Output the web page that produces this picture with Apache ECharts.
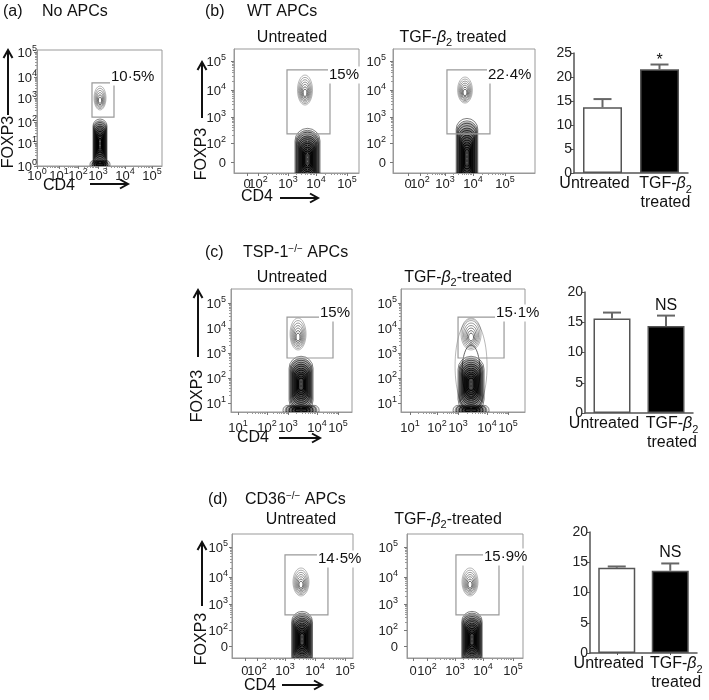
<!DOCTYPE html>
<html><head><meta charset="utf-8">
<script src="https://cdn.jsdelivr.net/npm/echarts@6/dist/echarts.min.js"></script>
<style>html,body{margin:0;padding:0;background:#fff}#c{width:709px;height:700px}</style>
</head><body><div id="c"></div><script>
const FF = '"Liberation Sans", Arial, Helvetica, sans-serif';

// ================= DATA =================
// Flow-cytometry display channels (0-1000) of the decade tick labels
const xTicks_a  = [0, 176, 328, 488, 704, 920];
const yTicks_a  = [0, 198, 379, 586, 767, 983];
const xTicks_bU = [104, 192, 432, 656, 904];
const xTicks_bT = [106, 190, 366, 563, 789];
const yTicks_b  = [89, 242, 452, 669, 903];
const xTicks_cU = [58, 298, 471, 711, 884];
const xTicks_cT = [73, 290, 460, 694, 863];
const yTicks_c  = [73, 276, 480, 683, 886];
const xTicks_dU = [107, 207, 438, 686, 934];
const xTicks_dT = [52, 172, 414, 655, 914];
const yTicks_d  = [97, 226, 435, 653, 895];

// tick label texts
const labels_dec0to5 = ['10^0', '10^1', '10^2', '10^3', '10^4', '10^5'];
const labels_zeroTo5 = ['0', '10^2', '10^3', '10^4', '10^5'];
const labels_dec1to5 = ['10^1', '10^2', '10^3', '10^4', '10^5'];

// cell populations: [centerX, centerY, spreadX, spreadY, contourLevels, dense(1)/light(0)] in channels
const pops_a  = [[504, 586, 48, 103, 6, 0], [504, 190, 56, 215, 12, 1], [504, 12, 80, 35, 4, 1]];
const pops_bU = [[568, 669, 60, 121, 7, 0], [588, 110, 100, 250, 14, 1]];
const pops_bT = [[507, 669, 52, 105, 7, 0], [521, 120, 76, 320, 14, 1]];
const pops_cU = [[554, 634, 66, 130, 7, 0], [579, 225, 99, 228, 12, 1], [579, 14, 149, 40, 5, 1]];
const pops_cT = [[565, 374, 129, 382, 2, 0], [565, 634, 81, 130, 7, 0], [565, 225, 105, 228, 12, 1], [565, 14, 145, 40, 5, 1]];
const pops_dU = [[570, 613, 66, 113, 7, 0], [579, 150, 86, 226, 14, 1]];
const pops_dT = [[543, 613, 69, 113, 7, 0], [560, 150, 88, 226, 14, 1]];

// gates: [x1, x2, y1, y2] in channels, and gated percentages
const gate_a  = [440, 616, 422, 716];
const gate_bU = [424, 768, 315, 831];
const gate_bT = [380, 683, 315, 831];
const gate_cU = [463, 843, 439, 772];
const gate_cT = [460, 831, 439, 772];
const gate_dU = [438, 793, 347, 831];
const gate_dT = [422, 793, 347, 831];
const gatePct = {a: '10·5%', bU: '15%', bT: '22·4%', cU: '15%', cT: '15·1%', dU: '14·5%', dT: '15·9%'};

// bar charts: % FOXP3+ (mean and SEM)
const barCategories = ['Untreated', 'TGF-β2 treated'];
const barMean_b = [13.7, 21.6];
const barErr_b  = [1.7, 1.0];
const barMean_c = [15.6, 14.4];
const barErr_c  = [1.0, 1.7];
const barMean_d = [14.1, 13.6];
const barErr_d  = [0.2, 1.2];
const sig_b = '*', sig_c = 'NS', sig_d = 'NS';
const barMax_b = 25, barMax_c = 20, barMax_d = 20;

// ================= LAYOUT / STYLE =================
const FLOW = [
  {id: 'a',  box: [37, 50, 125, 116],  xt: xTicks_a,  xl: labels_dec0to5, yt: yTicks_a, yl: labels_dec0to5, pops: pops_a,  gate: gate_a,  xm: 1, ym: 0, lab: [-4, -6]},
  {id: 'bU', box: [234, 49, 125, 124], xt: xTicks_bU, xl: labels_zeroTo5, yt: yTicks_b, yl: labels_zeroTo5, pops: pops_bU, gate: gate_bU, xm: 2, ym: 8, lab: [-2, 5]},
  {id: 'bT', box: [393, 49, 142, 124], xt: xTicks_bT, xl: labels_zeroTo5, yt: yTicks_b, yl: labels_zeroTo5, pops: pops_bT, gate: gate_bT, xm: 2, ym: 7, lab: [-3, 5]},
  {id: 'cU', box: [231, 289, 121, 123], xt: xTicks_cU, xl: labels_dec1to5, yt: yTicks_c, yl: labels_dec1to5, pops: pops_cU, gate: gate_cU, xm: 7, ym: 5, lab: [-14, -4]},
  {id: 'cT', box: [401, 289, 124, 123], xt: xTicks_cT, xl: labels_dec1to5, yt: yTicks_c, yl: labels_dec1to5, pops: pops_cT, gate: gate_cT, xm: 7, ym: 4, lab: [-9, -4]},
  {id: 'dU', box: [232, 534, 121, 124], xt: xTicks_dU, xl: labels_zeroTo5, yt: yTicks_d, yl: labels_zeroTo5, pops: pops_dU, gate: gate_dU, xm: 4, ym: 4, lab: [-11, 4]},
  {id: 'dT', box: [407, 534, 116, 124], xt: xTicks_dT, xl: labels_zeroTo5, yt: yTicks_d, yl: labels_zeroTo5, pops: pops_dT, gate: gate_dT, xm: 4, ym: 9, lab: [-16, 2]}
];
const BARS = [
  {id: 'b', box: [574, 53, 114, 120], mean: barMean_b, err: barErr_b, sig: sig_b, max: barMax_b, bw: 39, sigOff: 4, xt: false},
  {id: 'c', box: [585, 292, 108, 121], mean: barMean_c, err: barErr_c, sig: sig_c, max: barMax_c, bw: 37, sigOff: 10, xt: false},
  {id: 'd', box: [590, 532, 107, 121], mean: barMean_d, err: barErr_d, sig: sig_d, max: barMax_d, bw: 37, sigOff: 11, xt: true}
];

function supRich(s) {
  const m = s.split('^');
  return m.length > 1 ? '{b|' + m[0] + '}{s|' + m[1] + '}' : '{b|' + s + '}';
}
function minorTicks(pos, labels) {
  const out = [];
  for (let i = 0; i < pos.length - 1; i++) {
    if (labels[i].indexOf('^') > 0 && labels[i + 1].indexOf('^') > 0) {
      for (let m = 2; m < 10; m++) out.push(pos[i] + Math.log10(m) * (pos[i + 1] - pos[i]));
    }
  }
  return out;
}
const tickRich = {
  b: {fontSize: 13, fontFamily: FF, fill: '#222', color: '#222', lineHeight: 16, verticalAlign: 'bottom'},
  s: {fontSize: 9, fontFamily: FF, fill: '#222', color: '#222', lineHeight: 9, verticalAlign: 'top'}
};
function flowAxis(gi, ticks, pos) {
  return {
    gridIndex: gi, type: 'value', min: 0, max: 1000, position: pos,
    axisLine: {show: true, lineStyle: {color: '#999', width: 1}},
    axisTick: {show: true, customValues: ticks, length: 3, lineStyle: {color: '#777'}},
    axisLabel: {show: false},
    splitLine: {show: false}
  };
}
function minorAxis(gi, ticks, pos) {
  return {
    gridIndex: gi, type: 'value', min: 0, max: 1000, position: pos,
    axisLine: {show: false},
    axisTick: {show: true, customValues: ticks, length: 2, lineStyle: {color: '#999'}},
    axisLabel: {show: false}, splitLine: {show: false}
  };
}
// tick labels drawn through the axis scale
function makeTickLabels(labels, dir, margin) {
  return function (params, api) {
    const pos = api.value(0), idx = api.value(1);
    const text = supRich(labels[idx]);
    if (dir === 'x') {
      const c = api.coord([pos, 0]);
      return {type: 'text', x: c[0], y: c[1] + margin,
        style: {text: text, rich: tickRich, align: 'center', verticalAlign: 'top', fill: '#222'}};
    }
    const c = api.coord([0, pos]);
    return {type: 'text', x: c[0] - margin, y: c[1],
      style: {text: text, rich: tickRich, align: 'right', verticalAlign: 'middle', fill: '#222'}};
  };
}
function renderPop(params, api) {
  const c = api.coord([api.value(0), api.value(1)]);
  const s = api.size([api.value(2), api.value(3)]);
  const n = api.value(4), dense = api.value(5);
  const ch = [];
  if (dense) {
    // column-shaped dense population: nested rounded capsules
    const cap = function (f) {
      const w = 2 * s[0] * f, h = 2 * s[1] * f;
      return {x: c[0] - w / 2, y: c[1] - h / 2, width: w, height: h, r: Math.min(w, h) / 2};
    };
    for (let k = 0; k < 4; k++) {
      ch.push({type: 'rect', shape: cap(0.92 - k * 0.17), style: {fill: 'rgba(0,0,0,0.3)'}});
    }
    for (let k = 0; k < n; k++) {
      const f = 1 - k / n * 0.85;
      const t = n > 1 ? k / (n - 1) : 0;
      ch.push({type: 'rect', shape: cap(f), style: {fill: null, stroke: 'rgba(0,0,0,' + (0.5 + 0.5 * t) + ')', lineWidth: 1}});
    }
    // light speckles in the core
    ch.push({type: 'line', shape: {x1: c[0], y1: c[1] - s[1] * 0.6, x2: c[0], y2: c[1] + s[1] * 0.6},
      style: {stroke: 'rgba(255,255,255,0.35)', lineWidth: 1, lineDash: [1, 3]}});
  } else {
    for (let k = 0; k < n; k++) {
      const f = 1 - k / n * 0.88;
      const t = n > 1 ? k / (n - 1) : 0;
      ch.push({type: 'ellipse', shape: {cx: c[0], cy: c[1] + s[1] * (1 - f) * 0.25 * (k === 0 ? 0 : 1), rx: s[0] * f, ry: s[1] * f},
        style: {fill: null, stroke: 'rgba(30,30,30,' + (0.4 + 0.45 * t) + ')', lineWidth: 0.8}});
    }
  }
  return {type: 'group', children: ch};
}
function makeGate(text, off) {
  return function (params, api) {
    const p1 = api.coord([api.value(0), api.value(3)]);
    const p2 = api.coord([api.value(1), api.value(2)]);
    return {type: 'group', children: [
      {type: 'rect', shape: {x: p1[0], y: p1[1], width: p2[0] - p1[0], height: p2[1] - p1[1]},
        style: {fill: null, stroke: '#999', lineWidth: 1.2}},
      {type: 'text', x: p2[0] + off[0], y: p1[1] + off[1],
        style: {text: text, fill: '#111', font: '15px ' + FF, align: 'left', verticalAlign: 'middle',
          textAlign: 'left', textVerticalAlign: 'middle', backgroundColor: '#fff', padding: [1, 1]}}
    ]};
  };
}
function makeErr(sig, sigOff) {
  return function (params, api) {
    const k = api.value(0), m = api.value(1), e = api.value(2);
    const b = api.coord([k, m]), t = api.coord([k, m + e]);
    const ch = [
      {type: 'line', shape: {x1: t[0], y1: b[1], x2: t[0], y2: t[1]}, style: {stroke: '#666', lineWidth: 2}},
      {type: 'line', shape: {x1: t[0] - 9, y1: t[1], x2: t[0] + 9, y2: t[1]}, style: {stroke: '#666', lineWidth: 2}}
    ];
    if (params.dataIndex === 1 && sig) {
      ch.push({type: 'text', x: t[0], y: t[1] - sigOff,
        style: {text: sig, fill: '#111', font: '16px ' + FF, align: 'center', verticalAlign: 'middle',
          textAlign: 'center', textVerticalAlign: 'middle'}});
    }
    return {type: 'group', children: ch};
  };
}
const catRich = {
  t: {fontSize: 16, fontFamily: FF, color: '#111', lineHeight: 19, verticalAlign: 'top'},
  i: {fontSize: 16, fontFamily: FF, fontStyle: 'italic', color: '#111', lineHeight: 19, verticalAlign: 'top'},
  sub: {fontSize: 11, fontFamily: FF, color: '#111', lineHeight: 6, verticalAlign: 'bottom'},
  pl: {width: 12, lineHeight: 19, verticalAlign: 'top'},
  pr: {width: 16, lineHeight: 19, verticalAlign: 'top'}
};
function catLabel(v) {
  if (v.indexOf('TGF') === 0) return '{pl| }{t|TGF-}{i|β}{sub|2}\n{pl| }{t|treated}';
  return '{t|' + v + '}{pr| }';
}

const grids = [], xAxes = [], yAxes = [], series = [];
FLOW.forEach(function (p) {
  const gi = grids.length;
  grids.push({left: p.box[0], top: p.box[1], width: p.box[2], height: p.box[3], show: true, borderColor: '#999', borderWidth: 1});
  const xi = xAxes.length, yi = yAxes.length;
  xAxes.push(flowAxis(gi, p.xt, 'bottom'));
  xAxes.push(minorAxis(gi, minorTicks(p.xt, p.xl), 'bottom'));
  yAxes.push(flowAxis(gi, p.yt, 'left'));
  yAxes.push(minorAxis(gi, minorTicks(p.yt, p.yl), 'left'));
  series.push({type: 'custom', xAxisIndex: xi, yAxisIndex: yi, clip: true, silent: true, renderItem: renderPop, data: p.pops});
  series.push({type: 'custom', xAxisIndex: xi, yAxisIndex: yi, clip: false, silent: true, renderItem: makeGate(gatePct[p.id], p.lab), data: [p.gate]});
  series.push({type: 'custom', xAxisIndex: xi, yAxisIndex: yi, clip: false, silent: true, renderItem: makeTickLabels(p.xl, 'x', p.xm),
    data: p.xt.map(function (v, k) { return [v, k]; })});
  series.push({type: 'custom', xAxisIndex: xi, yAxisIndex: yi, clip: false, silent: true, renderItem: makeTickLabels(p.yl, 'y', p.ym),
    data: p.yt.map(function (v, k) { return [v, k]; })});
});
BARS.forEach(function (p) {
  const gi = grids.length;
  grids.push({left: p.box[0], top: p.box[1], width: p.box[2], height: p.box[3]});
  const xi = xAxes.length, yi = yAxes.length;
  xAxes.push({gridIndex: gi, type: 'category', data: barCategories,
    axisLine: {show: true, lineStyle: {color: '#555', width: 1.5}},
    axisTick: {show: p.xt, alignWithLabel: true, length: 2, lineStyle: {color: '#555'}},
    axisLabel: {interval: 0, margin: 3, formatter: catLabel, rich: catRich, hideOverlap: false}});
  yAxes.push({gridIndex: gi, type: 'value', min: 0, max: p.max, interval: 5,
    axisLine: {show: true, lineStyle: {color: '#555', width: 1.5}},
    axisTick: {show: true, length: 3, lineStyle: {color: '#555'}},
    axisLabel: {fontSize: 14, fontFamily: FF, color: '#222', margin: 2},
    splitLine: {show: false}});
  series.push({type: 'bar', xAxisIndex: xi, yAxisIndex: yi, barWidth: p.bw, silent: true,
    itemStyle: {borderColor: '#555', borderWidth: 1.5},
    data: p.mean.map(function (v, k) { return {value: v, itemStyle: {color: k ? '#000' : '#fff'}}; })});
  series.push({type: 'custom', xAxisIndex: xi, yAxisIndex: yi, silent: true, renderItem: makeErr(p.sig, p.sigOff),
    data: p.mean.map(function (v, k) { return [k, v, p.err[k]]; })});
});

// ----- text annotations -----
const titleRich = {
  t: {fontSize: 16, fontFamily: FF, color: '#111', lineHeight: 19, verticalAlign: 'top'},
  i: {fontSize: 16, fontFamily: FF, fontStyle: 'italic', color: '#111', lineHeight: 19, verticalAlign: 'top'},
  sup: {fontSize: 10, fontFamily: FF, color: '#111', lineHeight: 10, verticalAlign: 'top'},
  sub: {fontSize: 11, fontFamily: FF, color: '#111', lineHeight: 6, verticalAlign: 'bottom'}
};
function txt(x, y, text, align) {
  return {type: 'text', x: x, y: y, silent: true,
    style: {text: text, rich: titleRich, align: align || 'left', verticalAlign: 'middle', font: '16px ' + FF, fill: '#111'}};
}
function vText(x, y, text) {
  return {type: 'text', x: x, y: y, rotation: Math.PI / 2, silent: true,
    style: {text: text, align: 'center', verticalAlign: 'middle', font: '16px ' + FF, fill: '#111'}};
}
function arrowUp(x, y1, y2) {
  return [{type: 'line', silent: true, shape: {x1: x, y1: y1, x2: x, y2: y2 + 1}, style: {stroke: '#111', lineWidth: 2}},
    {type: 'polyline', silent: true, shape: {points: [[x - 4.5, y2 + 8], [x, y2], [x + 4.5, y2 + 8]]}, style: {stroke: '#111', lineWidth: 2, fill: null}}];
}
function arrowRight(y, x1, x2) {
  return [{type: 'line', silent: true, shape: {x1: x1, y1: y, x2: x2 - 1, y2: y}, style: {stroke: '#111', lineWidth: 2}},
    {type: 'polyline', silent: true, shape: {points: [[x2 - 8, y - 4.5], [x2, y], [x2 - 8, y + 4.5]]}, style: {stroke: '#111', lineWidth: 2, fill: null}}];
}
const graphics = [
  txt(3, 13, '{t|(a)}'), txt(42, 13, '{t|No APCs}'),
  txt(205, 13, '{t|(b)}'), txt(247, 13, '{t|WT APCs}'),
  txt(205, 254, '{t|(c)}'), txt(243, 254, '{t|TSP-1}{sup|−/−}{t| APCs}'),
  txt(208, 501, '{t|(d)}'), txt(245, 501, '{t|CD36}{sup|−/−}{t| APCs}'),
  txt(292, 39, '{t|Untreated}', 'center'), txt(453, 39, '{t|TGF-}{i|β}{sub|2}{t| treated}', 'center'),
  txt(292, 279, '{t|Untreated}', 'center'), txt(458, 279, '{t|TGF-}{i|β}{sub|2}{t|-treated}', 'center'),
  txt(301, 521, '{t|Untreated}', 'center'), txt(448, 521, '{t|TGF-}{i|β}{sub|2}{t|-treated}', 'center'),
  vText(9, 142, 'FOXP3'), vText(202, 154, 'FOXP3'), vText(198, 396, 'FOXP3'), vText(202, 639, 'FOXP3'),
  txt(59, 187, '{t|CD4}', 'center'), txt(257, 198, '{t|CD4}', 'center'), txt(253, 439, '{t|CD4}', 'center'), txt(260, 687, '{t|CD4}', 'center')
].concat(arrowUp(8, 115, 50), arrowUp(202, 118, 62), arrowUp(198, 357, 290), arrowUp(202, 606, 542),
  arrowRight(184, 90, 128), arrowRight(198, 280, 318), arrowRight(438, 279, 320), arrowRight(685, 282, 322));

const chart = echarts.init(document.getElementById('c'));
chart.setOption({
  animation: false,
  backgroundColor: '#fff',
  grid: grids, xAxis: xAxes, yAxis: yAxes, series: series, graphic: graphics
});
</script></body></html>
